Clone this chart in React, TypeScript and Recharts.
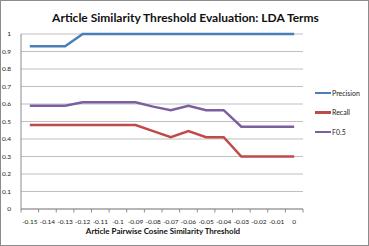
import React from "react";
import {
  LineChart,
  Line,
  XAxis,
  YAxis,
  CartesianGrid,
  ReferenceLine,
} from "recharts";

const thresholds = [
  -0.15, -0.14, -0.13, -0.12, -0.11, -0.1, -0.09, -0.08, -0.07, -0.06, -0.05,
  -0.04, -0.03, -0.02, -0.01, 0,
];
const precision = [0.93, 0.93, 0.93, 1, 1, 1, 1, 1, 1, 1, 1, 1, 1, 1, 1, 1];
const recall = [
  0.48, 0.48, 0.48, 0.48, 0.48, 0.48, 0.48, 0.445, 0.41, 0.445, 0.41, 0.41,
  0.3, 0.3, 0.3, 0.3,
];
const f05 = [
  0.59, 0.59, 0.59, 0.61, 0.61, 0.61, 0.61, 0.585, 0.565, 0.59, 0.565, 0.565,
  0.47, 0.47, 0.47, 0.47,
];
const yTicks = [0, 0.1, 0.2, 0.3, 0.4, 0.5, 0.6, 0.7, 0.8, 0.9, 1];

const series = [
  { key: "Precision", color: "#4a7ebb" },
  { key: "Recall", color: "#be4b48" },
  { key: "F0.5", color: "#7d5fa0" },
];

const data = thresholds.map((x, i) => ({
  x,
  Precision: precision[i],
  Recall: recall[i],
  "F0.5": f05[i],
}));

// tick marks sit between categories, like Excel
const step = 0.01;
const boundaries = [...thresholds.map((t) => t - step / 2), 0 + step / 2];

const font = "Lato, 'Open Sans', sans-serif";

export default function App() {
  return (
    <div
      style={{
        position: "absolute",
        left: 0,
        top: 0,
        width: 369,
        height: 246,
        background: "#fff",
        boxSizing: "border-box",
        border: "1px solid #8c8c8c",
      }}
    >
      <div
        style={{
          position: "absolute",
          left: 0,
          width: 369,
          top: 9,
          textAlign: "center",
          fontFamily: font,
          fontWeight: 700,
          fontSize: 12,
          color: "#111",
        }}
      >
        Article Similarity Threshold Evaluation: LDA Terms
      </div>
      <div
        style={{
          position: "absolute",
          left: 21,
          width: 282,
          top: 225,
          textAlign: "center",
          fontFamily: font,
          fontWeight: 700,
          fontSize: 8,
          color: "#111",
        }}
      >
        Article Pairwise Cosine Similarity Threshold
      </div>
      <div
        style={{
          position: "absolute",
          left: 314,
          top: 82,
          fontFamily: font,
          fontSize: 7,
          color: "#222",
        }}
      >
        {series.map((s) => (
          <div
            key={s.key}
            style={{ display: "flex", alignItems: "center", height: 19.5 }}
          >
            <div
              style={{
                width: 16,
                height: 2.5,
                background: s.color,
                marginRight: 1,
              }}
            />
            <span>{s.key}</span>
          </div>
        ))}
      </div>
      <div style={{ position: "absolute", left: -1, top: -1 }}>
        <LineChart
          width={369}
          height={246}
          data={data}
          margin={{ top: 34, right: 66, bottom: 0, left: 0 }}
        >
          <CartesianGrid vertical={false} stroke="#bfbfbf" />
          <XAxis
            dataKey="x"
            type="number"
            domain={[-0.155, 0.005]}
            ticks={thresholds}
            tickFormatter={(v: number) => String(v)}
            interval={0}
            height={37}
            tickLine={false}
            tickMargin={4}
            axisLine={{ stroke: "#8c8c8c" }}
            tick={{ fontSize: 6.5, fill: "#222", fontFamily: font }}
            allowDataOverflow
          />
          <YAxis
            domain={[0, 1]}
            ticks={yTicks}
            interval={0}
            width={21}
            tickLine={false}
            tickMargin={4}
            axisLine={{ stroke: "#8c8c8c" }}
            tick={{ fontSize: 6.5, fill: "#222", fontFamily: font }}
            tickFormatter={(v: number) => String(Math.round(v * 10) / 10)}
          />
          {boundaries.map((b) => (
            <ReferenceLine
              key={b}
              segment={[
                { x: b, y: 0 },
                { x: b, y: -0.02 },
              ]}
              stroke="#8c8c8c"
              ifOverflow="visible"
            />
          ))}
          {series.map((s) => (
            <Line
              key={s.key}
              dataKey={s.key}
              stroke={s.color}
              strokeWidth={2.5}
              dot={false}
              isAnimationActive={false}
            />
          ))}
        </LineChart>
      </div>
    </div>
  );
}
